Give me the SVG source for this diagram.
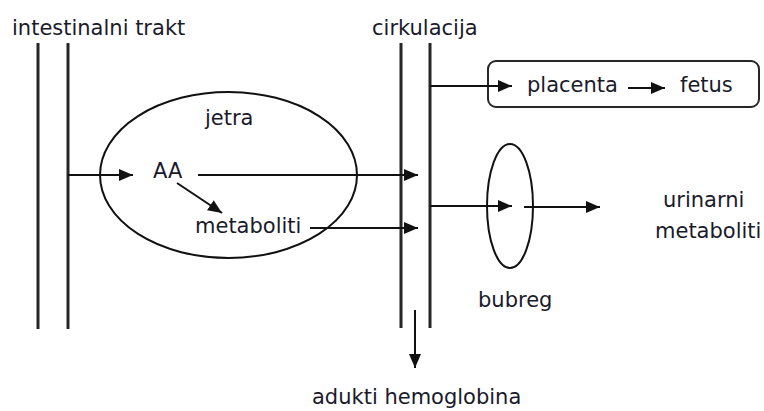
<svg xmlns="http://www.w3.org/2000/svg" width="764" height="411" viewBox="0 0 764 411">
  <style>
    .t { font-family: "DejaVu Sans", Verdana, sans-serif; font-size: 21px; fill: #1a1a2a; }
    .wall { stroke: #262626; stroke-width: 3; fill: none; }
    .conn { stroke: #111; stroke-width: 2; fill: none; }
    .shape { stroke: #111; stroke-width: 2; fill: none; }
  </style>
  <defs>
    <marker id="ah" markerUnits="userSpaceOnUse" markerWidth="15" markerHeight="13" refX="14" refY="6" orient="auto">
      <path d="M0,0 L14,6 L0,12 z" fill="#111"/>
    </marker>
  </defs>
  <rect width="764" height="411" fill="#fff"/>

  <g id="intestinalni-trakt">
    <line class="wall" x1="38" y1="43" x2="38" y2="329"/>
    <line class="wall" x1="68" y1="43" x2="68" y2="329"/>
    <text class="t" x="12" y="35">intestinalni trakt</text>
  </g>

  <g id="cirkulacija">
    <line class="wall" x1="401" y1="43" x2="401" y2="328"/>
    <line class="wall" x1="430" y1="43" x2="430" y2="328"/>
    <text class="t" x="372" y="35">cirkulacija</text>
  </g>

  <g id="jetra">
    <ellipse class="shape" cx="228.5" cy="175" rx="128.5" ry="83"/>
    <text class="t" x="205" y="125">jetra</text>
  </g>

  <g id="AA">
    <text class="t" x="153" y="178">AA</text>
  </g>

  <g id="metaboliti">
    <text class="t" x="195" y="233">metaboliti</text>
  </g>

  <g id="placenta-box">
    <rect class="shape" x="488" y="61" width="271" height="46" rx="8" ry="8" style="stroke:#262626"/>
    <text class="t" x="527" y="92">placenta</text>
    <text class="t" x="680" y="92">fetus</text>
  </g>

  <g id="bubreg">
    <ellipse class="shape" cx="510" cy="206" rx="23" ry="62"/>
    <text class="t" x="478" y="307">bubreg</text>
  </g>

  <g id="urinarni-metaboliti">
    <text class="t" x="663" y="207">urinarni</text>
    <text class="t" x="655" y="238">metaboliti</text>
  </g>

  <g id="adukti-hemoglobina">
    <text class="t" x="312" y="404">adukti hemoglobina</text>
  </g>

  <g id="connectors">
    <line class="conn" x1="68" y1="175" x2="133" y2="175" marker-end="url(#ah)"/>
    <line class="conn" x1="198" y1="175" x2="418" y2="175" marker-end="url(#ah)"/>
    <line class="conn" x1="177" y1="183" x2="222" y2="213" marker-end="url(#ah)"/>
    <line class="conn" x1="310" y1="228" x2="418" y2="228" marker-end="url(#ah)"/>
    <line class="conn" x1="430" y1="86" x2="512" y2="86" marker-end="url(#ah)"/>
    <line class="conn" x1="628" y1="88" x2="665" y2="88" marker-end="url(#ah)"/>
    <line class="conn" x1="430" y1="206" x2="512" y2="206" marker-end="url(#ah)"/>
    <line class="conn" x1="524" y1="207" x2="600" y2="207" marker-end="url(#ah)"/>
    <line class="conn" x1="415" y1="310" x2="415" y2="368" marker-end="url(#ah)"/>
  </g>
</svg>
